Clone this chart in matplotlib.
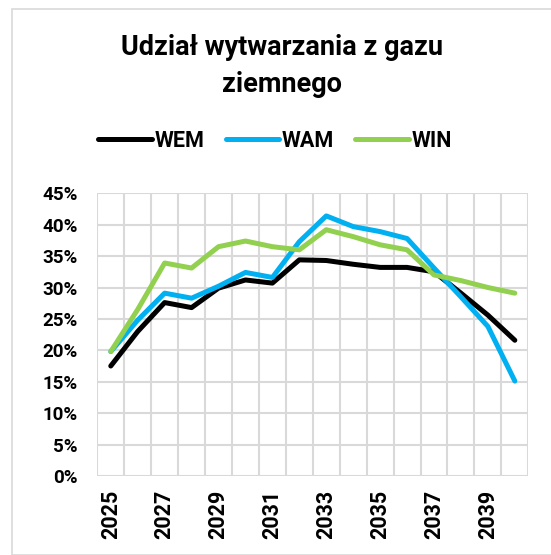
import matplotlib.pyplot as plt
from matplotlib.patches import Rectangle
from matplotlib.ticker import PercentFormatter

years = list(range(2025, 2041))
wem = [17.5, 23.0, 27.6, 26.8, 29.9, 31.2, 30.7, 34.4, 34.3, 33.7, 33.2, 33.2, 32.5, 29.1, 25.6, 21.6]
wam = [19.8, 24.8, 29.1, 28.3, 30.2, 32.4, 31.6, 37.3, 41.4, 39.7, 38.9, 37.8, 33.1, 28.5, 23.8, 15.1]
win = [19.8, 26.5, 33.9, 33.1, 36.5, 37.4, 36.5, 36.0, 39.2, 38.1, 36.8, 36.0, 32.0, 31.1, 30.0, 29.1]
series_names = ['WEM', 'WAM', 'WIN']
series_colors = ['#000000', '#00B0F0', '#92D050']
title = 'Udział wytwarzania z gazu\nziemnego'

plt.rcParams['font.family'] = ['Roboto', 'DejaVu Sans']

W, H = 551, 555
fig = plt.figure(figsize=(W / 100, H / 100), dpi=100)

# light chart frame like in the spreadsheet
fig.patches.append(Rectangle((12 / W, 0), 1, 1 - 9 / H, transform=fig.transFigure,
                             fill=False, edgecolor='#d9d9d9', linewidth=1.2))

ax = fig.add_axes([97.3 / W, 1 - 475.9 / H, (528.3 - 97.3) / W, (475.9 - 193.3) / H])

for vals, name, col in zip([wem, wam, win], series_names, series_colors):
    ax.plot(years, vals, color=col, linewidth=3.6, label=name, solid_capstyle='round',
            solid_joinstyle='round')

ax.set_xlim(2024.5, 2040.5)
ax.set_ylim(0, 45)
ax.set_yticks(range(0, 46, 5))
ax.yaxis.set_major_formatter(PercentFormatter(decimals=0))
ax.set_xticks(years[::2])
ax.set_xticks([y - 0.5 for y in years] + [2040.5], minor=True)
ax.grid(True, axis='y', color='#d9d9d9', linewidth=1.5)
ax.grid(True, axis='x', which='minor', color='#d9d9d9', linewidth=1.5)
ax.set_axisbelow(True)
for s in ax.spines.values():
    s.set_visible(False)
ax.tick_params(axis='both', which='both', length=0)
ax.tick_params(axis='y', pad=14, labelsize=13.5)
ax.tick_params(axis='x', pad=10, labelsize=15.5, labelrotation=90)
for lab in ax.get_xticklabels() + ax.get_yticklabels():
    lab.set_fontweight('bold')

fig.text(282 / W, 1 - 66 / H, title, ha='center', va='center', fontsize=19.5,
         fontweight='bold', linespacing=1.45)

fig.legend(loc='center', bbox_to_anchor=(275 / W, 1 - 141 / H), ncol=3, frameon=False,
           handlelength=2.5, handletextpad=0.1, columnspacing=1.0,
           prop={'weight': 'bold', 'size': 15.5})

fig.savefig('out.png', dpi=100)
